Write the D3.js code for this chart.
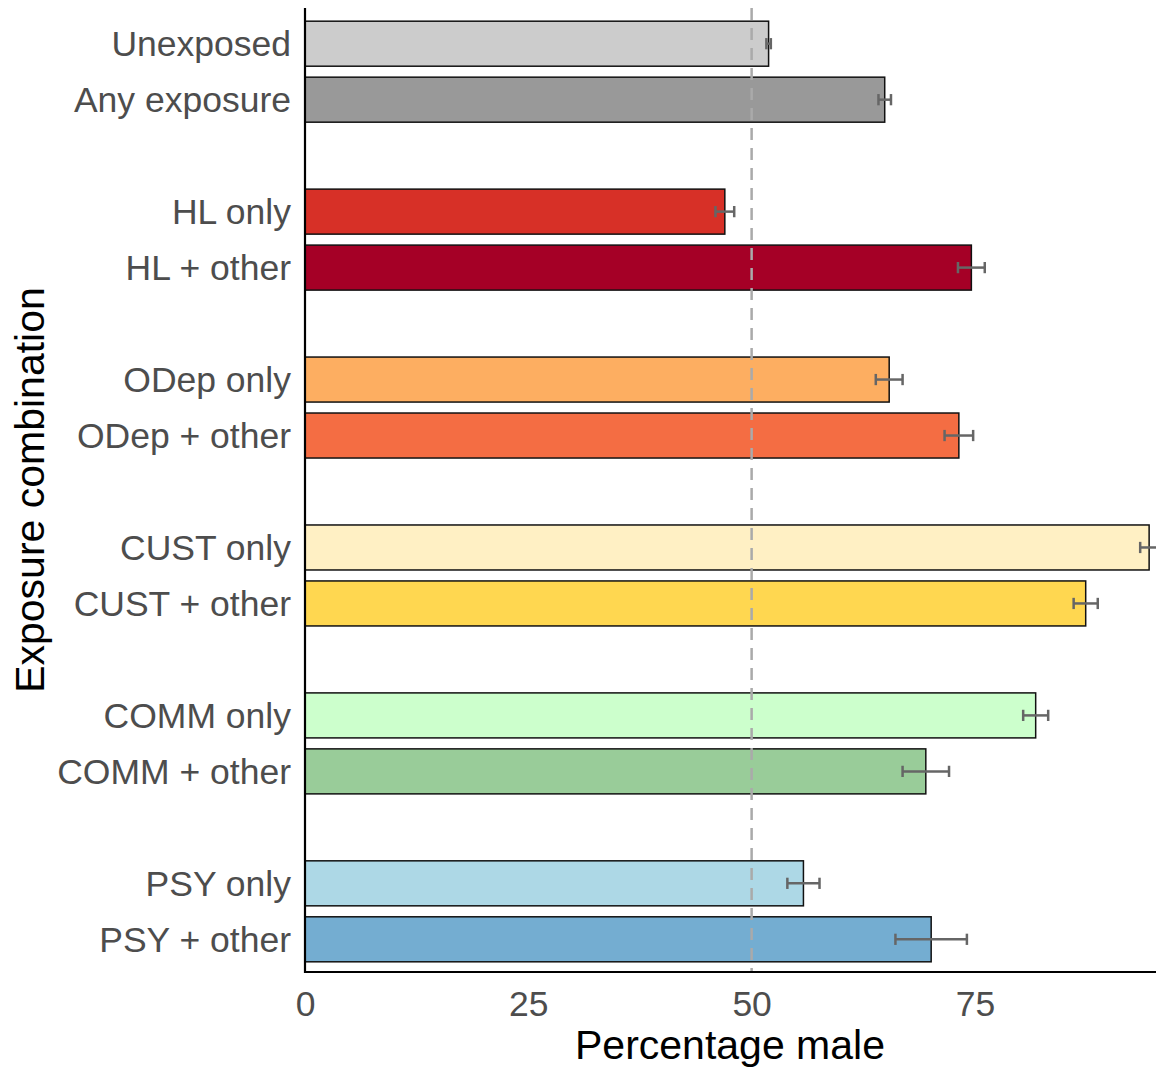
<!DOCTYPE html>
<meta charset="utf-8">
<style>
body { margin: 0; background: #fff; }
svg { font-family: "Liberation Sans", Arial, sans-serif; }
.tick-label { fill: #4d4d4d; font-size: 35.5px; }
.axis-title { fill: #000; font-size: 41px; }
</style>
<body>
<script src="https://cdn.jsdelivr.net/npm/d3@7"></script>
<script>

// groups of two bars
var categories = ["Unexposed", "Any exposure",
                  "HL only", "HL + other",
                  "ODep only", "ODep + other",
                  "CUST only", "CUST + other",
                  "COMM only", "COMM + other",
                  "PSY only", "PSY + other"];
var values = [51.9, 64.9, 47.0, 74.6, 65.4, 73.2, 94.5, 87.4, 81.8, 69.5, 55.8, 70.1];
var errors = [0.25, 0.7, 1.05, 1.5, 1.5, 1.6, 1.0, 1.35, 1.4, 2.6, 1.8, 4.0];
var colors = ["#cccccc", "#999999", "#d73027", "#a50026", "#fdae61", "#f46d43",
              "#fff0c4", "#ffd750", "#ccffcc", "#99cc99", "#add8e6", "#74add1"];
var xTicks = [0, 25, 50, 75];
var refLine = 50;

var width = 1156, height = 1071;
var plotTop = 8, plotBottom = 972, plotLeft = 305, plotRight = 1156;

var svg = d3.select("body").append("svg")
    .attr("width", width)
    .attr("height", height);

// slot list with a blank slot between each pair
var slots = [];
categories.forEach(function(c, i) {
  if (i > 0 && i % 2 === 0) slots.push("gap" + i);
  slots.push(c);
});

var data = categories.map(function(c, i) {
  return {name: c, value: values[i], err: errors[i], color: colors[i]};
});

var x = d3.scaleLinear()
    .domain([0, 95.27])
    .range([plotLeft, plotRight]);

var y = d3.scaleBand()
    .domain(slots)
    .range([10, 973])
    .paddingInner(0.196)
    .paddingOuter(0.2);

// bars
svg.append("g").selectAll("rect")
    .data(data)
    .enter().append("rect")
    .attr("x", x(0))
    .attr("y", function(d) { return y(d.name); })
    .attr("width", function(d) { return x(d.value) - x(0); })
    .attr("height", y.bandwidth())
    .attr("fill", function(d) { return d.color; })
    .attr("stroke", "#111")
    .attr("stroke-width", 1.5);

// dashed reference line
svg.append("line")
    .attr("x1", x(refLine)).attr("x2", x(refLine))
    .attr("y1", plotTop).attr("y2", plotBottom)
    .attr("stroke", "#aaaaaa")
    .attr("stroke-width", 2.5)
    .attr("stroke-dasharray", "12,8");

// error bars
var capH = y.bandwidth() * 0.25;
var eb = svg.append("g").attr("stroke", "#666666").attr("stroke-width", 2.5)
    .selectAll("g")
    .data(data)
    .enter().append("g")
    .attr("transform", function(d) { return "translate(0," + (y(d.name) + y.bandwidth() / 2) + ")"; });

eb.append("line")
    .attr("x1", function(d) { return x(d.value - d.err); })
    .attr("x2", function(d) { return x(d.value + d.err); });
eb.append("line")
    .attr("x1", function(d) { return x(d.value - d.err); })
    .attr("x2", function(d) { return x(d.value - d.err); })
    .attr("y1", -capH / 2).attr("y2", capH / 2);
eb.append("line")
    .attr("x1", function(d) { return x(d.value + d.err); })
    .attr("x2", function(d) { return x(d.value + d.err); })
    .attr("y1", -capH / 2).attr("y2", capH / 2);

// axes (no tick marks)
var xAxis = svg.append("g")
    .attr("transform", "translate(0," + plotBottom + ")")
    .call(d3.axisBottom(x).tickValues(xTicks).tickSize(0).tickPadding(19));
var yAxis = svg.append("g")
    .attr("transform", "translate(" + plotLeft + ",0)")
    .call(d3.axisLeft(y).tickValues(categories).tickSize(0).tickPadding(14));

xAxis.select(".domain").attr("d", "M" + (plotLeft - 1) + ",0H" + plotRight);
yAxis.select(".domain").attr("d", "M0," + plotTop + "V" + (plotBottom + 1));

[xAxis, yAxis].forEach(function(a) {
  a.select(".domain").attr("stroke", "#000").attr("stroke-width", 2.2);
  a.selectAll(".tick text")
    .attr("class", "tick-label")
    .attr("font-family", null)
    .attr("font-size", null)
    .attr("fill", null);
});
xAxis.selectAll(".tick text").attr("dy", "0.71em");
yAxis.selectAll(".tick text").attr("dy", "0.36em");

// axis titles
svg.append("text")
    .attr("class", "axis-title")
    .attr("x", 730)
    .attr("y", 1059)
    .attr("text-anchor", "middle")
    .text("Percentage male");

svg.append("text")
    .attr("class", "axis-title")
    .attr("transform", "translate(44," + 490 + ") rotate(-90)")
    .attr("text-anchor", "middle")
    .text("Exposure combination");

</script>
</body>
